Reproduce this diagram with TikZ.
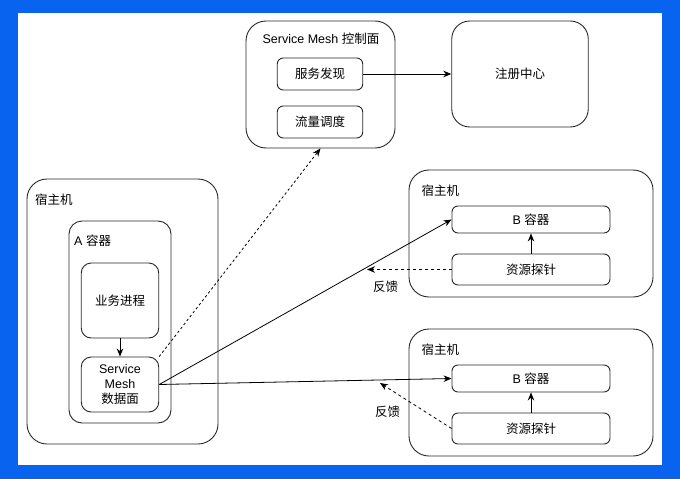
\documentclass[tikz,border=0pt]{standalone}
\usepackage{fontspec}
\setmainfont{Liberation Sans}
\newfontfamily\zhfont{Noto Sans CJK SC}
\newcommand{\zh}[1]{{\zhfont #1}}
\usepackage{tikz}
\usetikzlibrary{arrows.meta}
\usetikzlibrary{positioning}

\definecolor{framebg}{RGB}{8,100,238}
\definecolor{edge}{RGB}{40,40,40}

\tikzset{
  txt/.style={font=\fontsize{12.5}{15}\selectfont, inner sep=0pt, text=black},
  hostbox/.style={draw=edge, line width=0.9pt, rounded corners=20pt, inner sep=0pt},
  midbox/.style={draw=edge, line width=0.9pt, rounded corners=13pt, inner sep=0pt},
  smallbox/.style={draw=edge, line width=0.9pt, rounded corners=6pt, inner sep=0pt,
    font=\fontsize{12.5}{15}\selectfont, align=center},
  link/.style={line width=0.8pt, -{Stealth[length=8pt,width=6.5pt]}},
  feedback/.style={link, dash pattern=on 3pt off 3pt},
  ctrllink/.style={link, dash pattern=on 2.5pt off 2.5pt}
}

\begin{document}
\begin{tikzpicture}[x=1pt,y=-1pt]
      \useasboundingbox (0,0) rectangle (680,479);
      \fill[framebg] (0,0) rectangle (680,479);
      \fill[white] (17.5,12.5) rectangle (662,465);

      % control plane and registry
      \node[hostbox, minimum width=149pt, minimum height=127pt] (ctrl) at (320.5,84.5) {};
      \node[txt] (ctrltitle) at (321,39) {Service Mesh \zh{控制面}};
      \node[smallbox, minimum width=85.5pt, minimum height=32pt] (disc) at (320,74) {\zh{服务发现}};
      \node[smallbox, minimum width=85.5pt, minimum height=32pt] (flow) at (320,122) {\zh{流量调度}};
      \node[hostbox, rounded corners=18pt, minimum width=136.5pt, minimum height=106pt, txt] (reg) at (520,74) {\zh{注册中心}};

      % host with container A
      \node[hostbox, minimum width=191pt, minimum height=265pt] (hosta) at (122.5,311.5) {};
      \node[txt, anchor=west] (hostatitle) at (35,200) {\zh{宿主机}};
      \node[midbox, minimum width=102pt, minimum height=202pt] (conta) at (120,322) {};
      \node[txt, anchor=west] (contatitle) at (74,241) {A \zh{容器}};
      \node[smallbox, rounded corners=10pt, minimum width=77.5pt, minimum height=75pt] (biz) at (120,300.5) {\zh{业务进程}};
      \node[smallbox, rounded corners=10pt, minimum width=77.5pt, minimum height=55pt] (dp) at (120,384.5) {Service\\Mesh\\\zh{数据面}};

      % host with container B (top)
      \node[hostbox, minimum width=244pt, minimum height=127pt] (hostb) at (531,233.5) {};
      \node[txt, anchor=west] (hostbtitle) at (421.5,191) {\zh{宿主机}};
      \node[smallbox, minimum width=158pt, minimum height=27pt] (bca) at (531,219.5) {B \zh{容器}};
      \node[smallbox, minimum width=158pt, minimum height=31pt] (probea) at (531,269.5) {\zh{资源探针}};

      % host with container B (bottom)
      \node[hostbox, minimum width=244pt, minimum height=127pt] (hostc) at (531,392.5) {};
      \node[txt, anchor=west] (hostctitle) at (421.5,350) {\zh{宿主机}};
      \node[smallbox, minimum width=158pt, minimum height=27pt] (bcb) at (531,378.5) {B \zh{容器}};
      \node[smallbox, minimum width=158pt, minimum height=31pt] (probeb) at (531,428.5) {\zh{资源探针}};

      % feedback ends and labels
      \coordinate (fba) at (367,269.5);
      \coordinate (fbb) at (380,383);
      \node[txt] (fbalabel) at (385.5,287) {\zh{反馈}};
      \node[txt] (fbblabel) at (387.5,411.5) {\zh{反馈}};

      % connectors
      \draw[link] (disc) -- (reg);
      \draw[link] (biz) -- (dp);
      \draw[link] (probea) -- (bca);
      \draw[link] (probeb) -- (bcb);
      \draw[ctrllink] (dp.north east) -- (ctrl.south);
      \draw[link] (dp.east) -- (bca.west);
      \draw[link] (dp.east) -- (bcb.west);
      \draw[feedback] (probea.west) -- (fba);
      \draw[feedback] (probeb.west) -- (fbb);
    \end{tikzpicture}
\end{document}
